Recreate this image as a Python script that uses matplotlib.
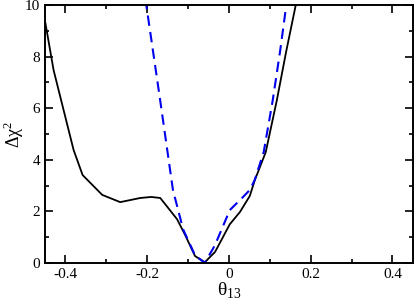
import numpy as np
import matplotlib
matplotlib.use('Agg')
import matplotlib.pyplot as plt
from matplotlib.ticker import MultipleLocator

# Datos
theta_black = [-0.449, -0.429, -0.38, -0.358, -0.31, -0.266, -0.217, -0.19, -0.168,
               -0.127, -0.107, -0.083, -0.059, -0.034, 0.002, 0.027, 0.051, 0.063,
               0.09, 0.117, 0.14, 0.166]
chi2_black = [9.3, 7.48, 4.38, 3.41, 2.64, 2.36, 2.52, 2.56, 2.52,
              1.7, 1.08, 0.27, 0.03, 0.43, 1.5, 1.98, 2.6, 3.2,
              4.3, 6.3, 8.2, 10.2]

theta_blue = [-0.205, -0.17, -0.137, -0.112, -0.083, -0.059, -0.034, 0.002,
              0.032, 0.051, 0.063, 0.085, 0.107, 0.125, 0.142]
chi2_blue = [10.3, 6.5, 2.83, 1.3, 0.3, 0.0, 0.7, 2.05,
             2.52, 2.83, 3.22, 4.3, 6.3, 8.2, 10.2]

plt.rcParams['font.family'] = ['Liberation Serif', 'DejaVu Serif']
plt.rcParams['mathtext.fontset'] = 'custom'
plt.rcParams['mathtext.rm'] = 'Liberation Serif'

fig = plt.figure(figsize=(4.15, 3.01), dpi=100)
ax = fig.add_axes([0.1084, 0.1262, 0.8866, 0.8572])

ax.plot(theta_black, chi2_black, color='black', lw=1.3)
ax.plot(theta_blue, chi2_blue, color='#0000ee', lw=1.5, dashes=(5, 3))

ax.set_xlim(-0.45, 0.45)
ax.set_ylim(0, 10)
ax.xaxis.set_major_locator(MultipleLocator(0.2))
ax.xaxis.set_minor_locator(MultipleLocator(0.1))
ax.yaxis.set_major_locator(MultipleLocator(2))
ax.yaxis.set_minor_locator(MultipleLocator(1))
ax.xaxis.set_major_formatter(plt.FuncFormatter(lambda v, p: '0' if abs(v) < 1e-9 else f'{v:g}'))

ax.tick_params(which='both', direction='in', top=True, right=True, labelsize=11, width=1.2)
ax.tick_params(which='major', length=6)
ax.tick_params(which='minor', length=3)
for s in ax.spines.values():
    s.set_linewidth(1.4)

ax.set_xlabel(r'θ$_{\mathrm{13}}$', fontsize=14, labelpad=0)
ax.set_ylabel(r'Δχ$^{\mathrm{2}}$', fontsize=13)
ax.yaxis.set_label_coords(-0.052, 0.5)

fig.savefig('out.png', dpi=100)
